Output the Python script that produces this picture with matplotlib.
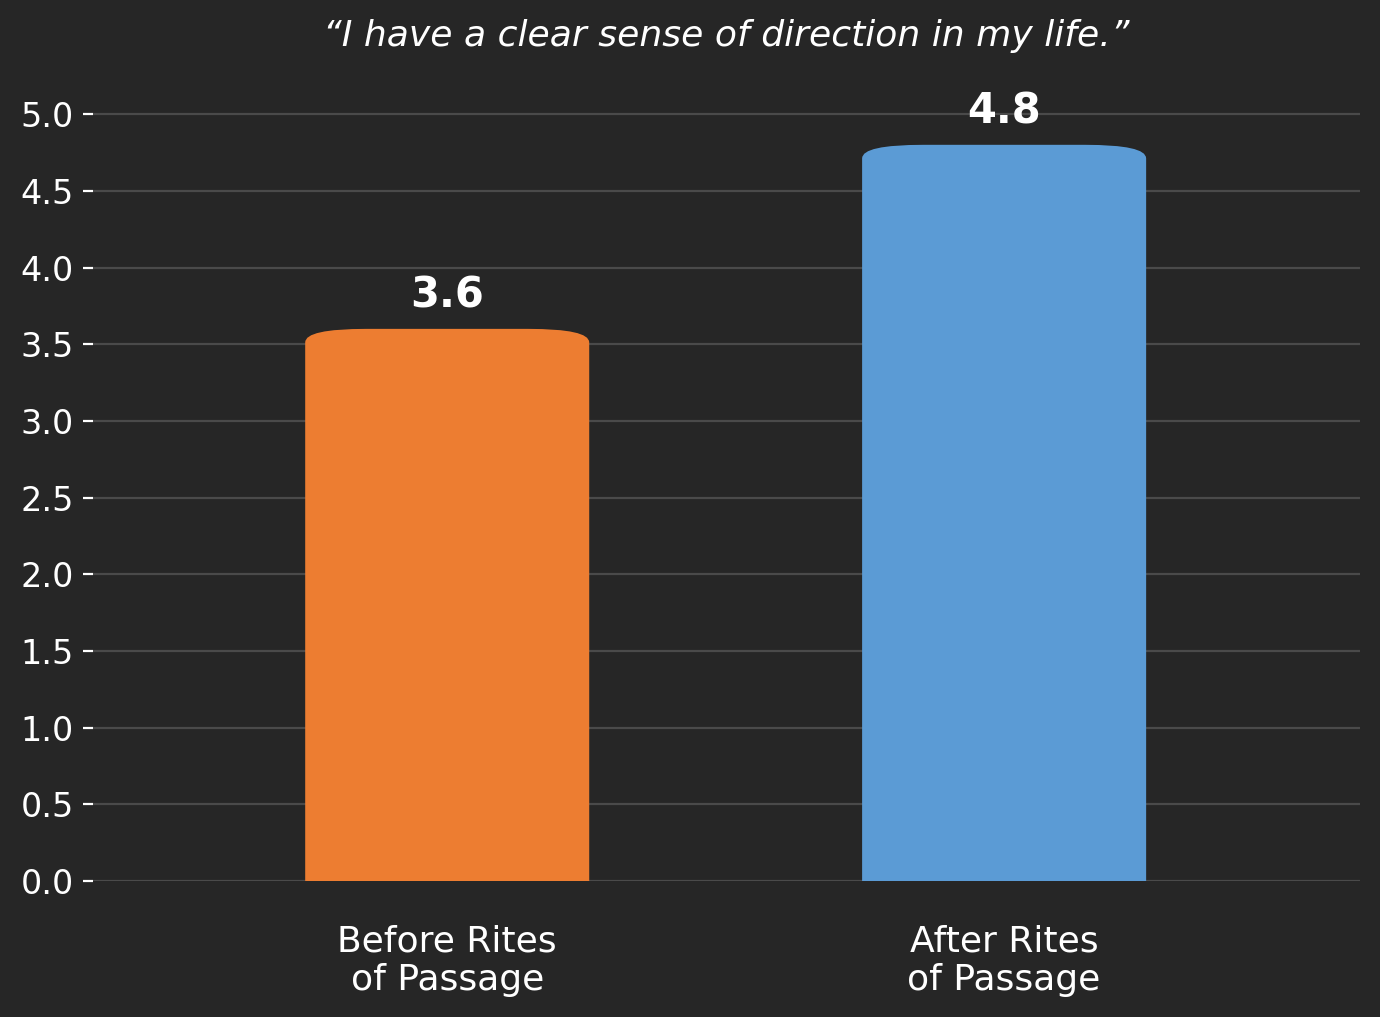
import matplotlib
matplotlib.use("Agg")
import matplotlib.pyplot as plt
from matplotlib.patches import FancyBboxPatch

categories = ["Before Rites\nof Passage", "After Rites\nof Passage"]
scores = [3.6, 4.8]
bar_colors = ["#ED7D31", "#5B9BD5"]
yticks = [0.0, 0.5, 1.0, 1.5, 2.0, 2.5, 3.0, 3.5, 4.0, 4.5, 5.0]
title = "\u201cI have a clear sense of direction in my life.\u201d"

BG = "#262626"

fig = plt.figure(figsize=(6.9, 5.085), dpi=200, facecolor=BG)
ax = fig.add_axes([0.0674, 0.1337, 0.9181, 0.7963], facecolor=BG)

xs = list(range(len(categories)))
bars = ax.bar(xs, scores, width=0.51, color=bar_colors)

# swap plain bars for rounded-top ones (bottom corners hidden below y=0)
for b, c in zip(bars, bar_colors):
    x0, w, h = b.get_x(), b.get_width(), b.get_height()
    b.remove()
    ax.add_patch(FancyBboxPatch(
        (x0, -0.5), w, h + 0.5,
        boxstyle="round,pad=0,rounding_size=0.11",
        mutation_aspect=0.8, facecolor=c, edgecolor="none", zorder=3,
    ))

for x, v in zip(xs, scores):
    ax.text(x, v + 0.08, f"{v:.1f}", ha="center", va="bottom",
            fontsize=15, fontweight="bold", color="white", zorder=4)

ax.set_xlim(-0.636, 1.639)
ax.set_ylim(0, 5.28)
ax.set_yticks(yticks)
ax.set_yticklabels([f"{t:.1f}" for t in yticks])
ax.set_xticks(xs)
ax.set_xticklabels(categories)

ax.yaxis.grid(True, color="#4a4a4a", linewidth=0.8, zorder=0)
ax.set_axisbelow(True)
for s in ax.spines.values():
    s.set_visible(False)

ax.tick_params(axis="y", colors="white", labelsize=12, length=3.5, width=0.8)
ax.tick_params(axis="x", colors="white", labelsize=13, length=0, pad=15.5)

ax.set_title(title, color="white", fontsize=13, style="italic", pad=9)

fig.savefig("out.png", dpi=200, facecolor=BG)
plt.close(fig)
